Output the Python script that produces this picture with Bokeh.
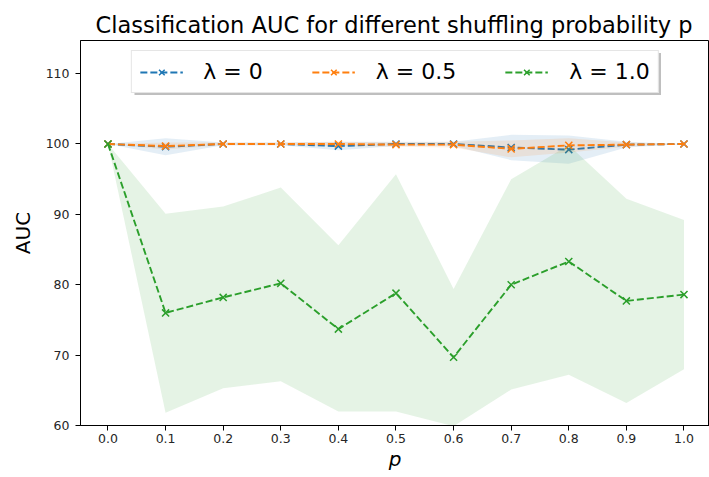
from bokeh.plotting import figure
from bokeh.models import Range1d, FixedTicker, BoxAnnotation
from bokeh.embed import file_html
from bokeh.resources import INLINE

# ---------------- data ----------------
p_vals = [0.0, 0.1, 0.2, 0.3, 0.4, 0.5, 0.6, 0.7, 0.8, 0.9, 1.0]
p_labels = ["0.0", "0.1", "0.2", "0.3", "0.4", "0.5", "0.6", "0.7", "0.8", "0.9", "1.0"]
y_ticks = [60, 70, 80, 90, 100, 110]

# lambda = 0
auc_l0 = [100.0, 99.6, 100.0, 100.0, 99.7, 100.0, 100.0, 99.5, 99.2, 99.9, 100.0]
std_l0 = [0.0, 1.2, 0.2, 0.2, 0.6, 0.3, 0.3, 1.8, 2.0, 0.4, 0.0]
# lambda = 0.5
auc_l05 = [100.0, 99.7, 100.0, 100.0, 100.0, 99.9, 99.9, 99.3, 99.8, 99.9, 100.0]
std_l05 = [0.0, 0.5, 0.2, 0.2, 0.3, 0.3, 0.4, 1.2, 1.0, 0.3, 0.0]
# lambda = 1.0
auc_l1 = [100.0, 76.0, 78.2, 80.2, 73.7, 78.8, 69.7, 80.0, 83.3, 77.7, 78.6]
upper_l1 = [100.0, 90.1, 91.1, 93.8, 85.6, 95.7, 79.4, 95.0, 99.8, 92.2, 89.2]
lower_l1 = [100.0, 61.8, 65.3, 66.3, 62.0, 62.0, 59.9, 65.1, 67.2, 63.2, 68.0]

series_names = ["λ = 0", "λ = 0.5", "λ = 1.0"]
colors = ["#1f77b4", "#ff7f0e", "#2ca02c"]
title_text = "Classification AUC for different shuffling probability p"

# ---------------- figure ----------------
X0, X1 = -0.0477, 1.0443
Y0, Y1 = 60.0, 114.7
FL, FT, FW, FH = 80, 40, 629, 385

fig = figure(frame_width=FW, frame_height=FH,
             x_range=Range1d(X0, X1), y_range=Range1d(Y0, Y1),
             output_backend="svg", toolbar_location=None,
             min_border_left=FL, min_border_right=0,
             min_border_top=FT, min_border_bottom=52,
             background_fill_color="white", border_fill_color="white")


def px_x(px):
    return X0 + (px - FL) / FW * (X1 - X0)


def px_y(py):
    return Y0 + (FT + FH - py) / FH * (Y1 - Y0)


# legend shadow (drawn before the legend)
fig.add_layout(BoxAnnotation(left=px_x(134), right=px_x(660.5),
                             top=px_y(52.5), bottom=px_y(94.5),
                             fill_color="#7f7f7f", fill_alpha=0.5,
                             line_color=None))


def band(mean, sd):
    lo = [m - s for m, s in zip(mean, sd)]
    hi = [m + s for m, s in zip(mean, sd)]
    return lo, hi


DASH = "7 3"
series = [
    (auc_l0,) + band(auc_l0, std_l0),
    (auc_l05,) + band(auc_l05, std_l05),
    (auc_l1, lower_l1, upper_l1),
]

for (mean, lo, hi), name, col in zip(series, series_names, colors):
    fig.line(p_vals, mean, line_color=col, line_dash=DASH, line_width=1.9,
             legend_label=name)
    fig.scatter(p_vals, mean, marker="x", size=10, line_color=col,
                line_width=1.5, legend_label=name)
    fig.varea(x=p_vals, y1=lo, y2=hi, fill_color=col, fill_alpha=0.12)

# ---------------- axes ----------------
fig.xgrid.visible = False
fig.ygrid.visible = False
fig.outline_line_color = "black"
fig.outline_line_width = 1
fig.outline_line_alpha = 1

fig.xaxis.ticker = FixedTicker(ticks=p_vals)
fig.xaxis.major_label_overrides = {v: s for v, s in zip(p_vals, p_labels)}
fig.yaxis.ticker = FixedTicker(ticks=y_ticks)

for ax in (fig.xaxis, fig.yaxis):
    ax.major_label_text_font = "DejaVu Sans"
    ax.major_label_text_font_size = "12.5px"
    ax.major_label_text_color = "#262626"
    ax.major_tick_out = 5
    ax.major_tick_in = 0
    ax.minor_tick_line_color = None
    ax.axis_line_color = "black"
    ax.major_tick_line_color = "black"
    ax.axis_label_text_font = "DejaVu Sans"
    ax.axis_label_text_font_size = "20px"
    ax.axis_label_text_color = "black"

fig.xaxis.axis_label = "p"
fig.xaxis.axis_label_text_font_style = "italic"
fig.xaxis.major_label_standoff = 3
fig.xaxis.axis_label_standoff = 1
fig.yaxis.axis_label = "AUC"
fig.yaxis.axis_label_text_font_style = "normal"
fig.yaxis.major_label_standoff = 6
fig.yaxis.axis_label_standoff = 8

# ---------------- legend ----------------
lg = fig.legend[0]
lg.location = "top_center"
lg.orientation = "horizontal"
lg.label_text_font = "DejaVu Sans"
lg.label_text_font_size = "22px"
lg.label_text_color = "black"
lg.glyph_width = 43
lg.glyph_height = 20
lg.label_standoff = 21
lg.spacing = 49
lg.padding = 8
lg.margin = 10
lg.border_line_color = "#cccccc"
lg.border_line_width = 1
lg.background_fill_alpha = 1.0

# ---------------- title ----------------
fig.title.text = title_text
fig.title.align = "left"
fig.title.offset = 15
fig.title.text_font = "DejaVu Sans"
fig.title.text_font_size = "22.5px"
fig.title.text_font_style = "normal"
fig.title.text_color = "black"
fig.title.standoff = 6

open("out.html", "w").write(file_html(fig, INLINE))
